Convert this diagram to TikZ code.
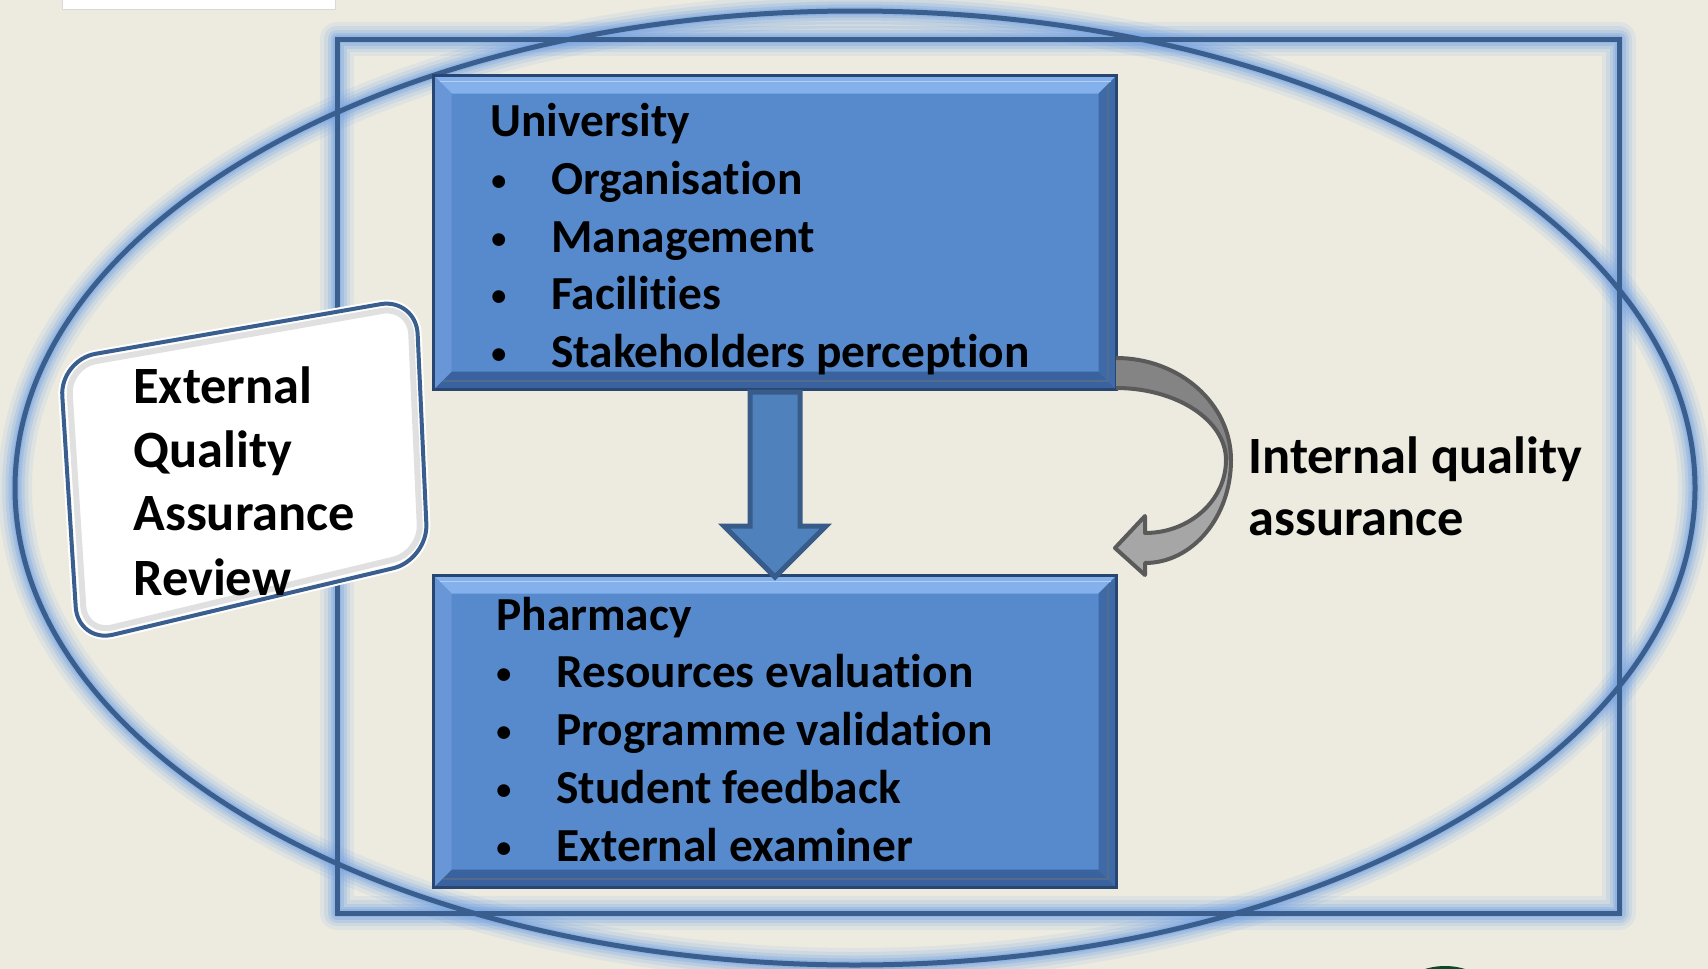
\documentclass[tikz,border=0pt]{standalone}
\usepackage{fontspec}
\setmainfont{Carlito}[RawFeature=-liga]
\usetikzlibrary{calc}
\definecolor{bg}{RGB}{237,235,224}
\definecolor{dblue}{RGB}{58,95,143}
\definecolor{glowc}{RGB}{118,164,226}
\definecolor{boxfill}{RGB}{86,138,204}
\definecolor{boxedge}{RGB}{40,70,112}
\definecolor{bevtop}{RGB}{132,176,236}
\definecolor{bevleft}{RGB}{104,150,214}
\definecolor{bevright}{RGB}{62,106,168}
\definecolor{bevbot}{RGB}{58,98,158}
\definecolor{arrfill}{RGB}{79,129,189}
\definecolor{arrline}{RGB}{56,92,138}
\definecolor{cdark}{RGB}{132,132,132}
\definecolor{clight}{RGB}{166,166,166}
\definecolor{cline}{RGB}{90,90,90}
\definecolor{dgreen}{RGB}{12,72,42}
\tikzset{
  bluebox/.style={draw=boxedge, line width=1.5pt, fill=boxfill, inner sep=0pt,
    path picture={
      \coordinate (ppnw) at (path picture bounding box.north west);
      \coordinate (ppne) at (path picture bounding box.north east);
      \coordinate (ppsw) at (path picture bounding box.south west);
      \coordinate (ppse) at (path picture bounding box.south east);
      \fill[bevtop] (ppnw) -- (ppne) -- ([shift={(-9pt,-9pt)}]ppne) -- ([shift={(9pt,-9pt)}]ppnw) -- cycle;
      \fill[bevbot] (ppsw) -- (ppse) -- ([shift={(-9pt,9pt)}]ppse) -- ([shift={(9pt,9pt)}]ppsw) -- cycle;
      \fill[bevleft] (ppnw) -- ([shift={(9pt,-9pt)}]ppnw) -- ([shift={(9pt,9pt)}]ppsw) -- (ppsw) -- cycle;
      \fill[bevright] (ppne) -- ([shift={(-9pt,-9pt)}]ppne) -- ([shift={(-9pt,9pt)}]ppse) -- (ppse) -- cycle;
      \draw[boxedge!80, line width=1pt] ([shift={(-4.5pt,-4.5pt)}]ppne) -- ([shift={(-4.5pt,4.5pt)}]ppse) -- ([shift={(4.5pt,4.5pt)}]ppsw);
      \draw[bevtop!60!white, line width=0.8pt] ([shift={(3pt,-3pt)}]ppnw) -- ([shift={(-3pt,-3pt)}]ppne);
    }},
  boxtxt/.style={anchor=base west, inner sep=0pt, text=black, font=\bfseries\fontsize{23.7}{28}\selectfont},
  bul/.style={anchor=base west, inner sep=0pt, text=black, font=\bfseries\fontsize{15}{18}\selectfont, yshift=2pt},
  bigtxt/.style={anchor=base west, inner sep=0pt, text=black, font=\bfseries\fontsize{26.2}{31}\selectfont},
  frameline/.style={draw=dblue, line width=2.5pt},
  glowline/.style={draw=glowc, line join=round},
  downarrow/.style={fill=arrfill, draw=arrline, line width=2.5pt, line join=miter},
  extbox/.style={fill=white, draw=dblue, line width=2pt, rounded corners=18pt},
}
\begin{document}
\begin{tikzpicture}[x=0.5pt,y=-0.5pt]
\useasboundingbox (0,0) rectangle (1708,969);
\fill[bg] (0,0) rectangle (1708,969);
\draw[fill=white, draw=black!15, line width=0.5pt] (62,-4) rectangle (335,9);
\fill[dgreen] (1445,1034) circle [radius=68];

% glows
\foreach \w/\o in {17pt/0.12, 13pt/0.16, 9.5pt/0.22, 6.5pt/0.3, 4pt/0.4} {
  \draw[glowline, line width=\w, opacity=\o] (337,39) rectangle (1619,913);
  \draw[glowline, line width=\w, opacity=\o] (855,488) ellipse [x radius=840, y radius=477];
}
\draw[frameline] (337,39) rectangle (1619,913);
\draw[frameline] (855,488) ellipse [x radius=840, y radius=477];

% boxes
\node[bluebox, anchor=north west, minimum width=341.5pt, minimum height=157pt] (univ) at (432,74) {};
\node[bluebox, anchor=north west, minimum width=341.5pt, minimum height=156pt] (pharm) at (432,574) {};

% university text
\node[boxtxt] (u0) at (490,136) {University};
\node[bul] (u1b) at (491,194) {\textbullet};
\node[boxtxt] (u1) at (551,194) {Organisation};
\node[bul] (u2b) at (491,252) {\textbullet};
\node[boxtxt] (u2) at (551,252) {Management};
\node[bul] (u3b) at (491,309) {\textbullet};
\node[boxtxt] (u3) at (551,309) {Facilities};
\node[bul] (u4b) at (491,367) {\textbullet};
\node[boxtxt] (u4) at (551,367) {Stakeholders perception};

% pharmacy text
\node[boxtxt] (p0) at (496,630) {Pharmacy};
\node[bul] (p1b) at (496,687) {\textbullet};
\node[boxtxt] (p1) at (556,687) {Resources evaluation};
\node[bul] (p2b) at (496,745) {\textbullet};
\node[boxtxt] (p2) at (556,745) {Programme validation};
\node[bul] (p3b) at (496,803) {\textbullet};
\node[boxtxt] (p3) at (556,803) {Student feedback};
\node[bul] (p4b) at (496,861) {\textbullet};
\node[boxtxt] (p4) at (556,861) {External examiner};

% down arrow
\draw[downarrow] ($(univ.south)+(-25,1)$) -- ($(univ.south)+(25,1)$) -- ($(pharm.north)+(25,-48)$) -- ($(pharm.north)+(51,-48)$) -- ($(pharm.north)+(0,3)$) -- ($(pharm.north)+(-51,-48)$) -- ($(pharm.north)+(-25,-48)$) -- cycle;

% curved arrow
\begin{scope}[shift={(univ.south east)}]
  \path[fill=clight] (-2,-33) .. controls (61.5,-33) and (113,12.7) .. (113,69)
     .. controls (113,126) and (74.5,172) .. (27,172) -- (27,184) -- (-3,157) -- (27,125) -- (27,142)
     .. controls (71.7,142) and (108,109.3) .. (108,69)
     .. controls (108,29.3) and (58.7,-3) .. (-2,-3) -- cycle;
  \path[fill=cdark] (-2,-33) .. controls (61.5,-33) and (113,12.7) .. (113,69) -- (108,69)
     .. controls (108,29.3) and (58.7,-3) .. (-2,-3) -- cycle;
  \draw[cline, line width=2pt, line join=round] (-2,-33) .. controls (61.5,-33) and (113,12.7) .. (113,69)
     .. controls (113,126) and (74.5,172) .. (27,172) -- (27,184) -- (-3,157) -- (27,125) -- (27,142)
     .. controls (71.7,142) and (108,109.3) .. (108,69)
     .. controls (108,29.3) and (58.7,-3) .. (-2,-3);
\end{scope}

\node[bigtxt] (iqa1) at (1248,473) {Internal quality};
\node[bigtxt] (iqa2) at (1248,535) {assurance};

% external box
\draw[extbox, draw=white, line width=4pt] (60,360) -- (416,298) -- (428,560) -- (78,643) -- cycle;
\draw[extbox] (60,360) -- (416,298) -- (428,560) -- (78,643) -- cycle;
\draw[draw=black!12, line width=3pt, rounded corners=14pt] (68,366) -- (410,306) -- (421,553) -- (85,634) -- cycle;
\node[bigtxt] (e1) at (133,403) {External};
\node[bigtxt] (e2) at (133,467) {Quality};
\node[bigtxt] (e3) at (133,530) {Assurance};
\node[bigtxt] (e4) at (133,595) {Review};
\end{tikzpicture}
\end{document}
